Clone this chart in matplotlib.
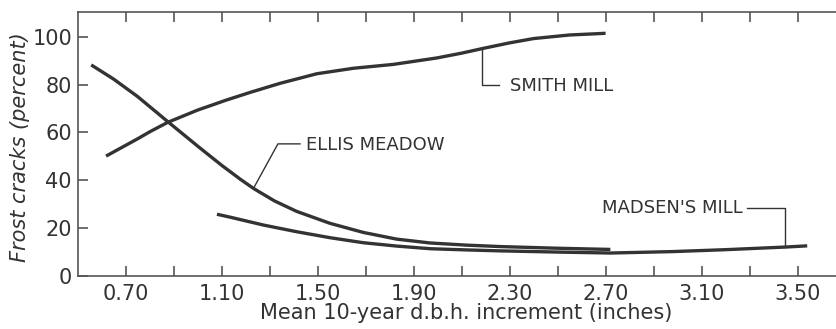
import matplotlib
matplotlib.use("Agg")
import matplotlib.pyplot as plt

# ---- data ----
ellis_x = [0.557, 0.65, 0.75, 0.876, 1.01, 1.10, 1.18, 1.233, 1.32, 1.413, 1.552, 1.691, 1.83, 1.969, 2.12, 2.26, 2.50, 2.72]
ellis_y = [88.2, 82.3, 75.0, 64.5, 53.5, 46.3, 40.3, 36.6, 31.4, 27.0, 22.0, 18.2, 15.4, 13.8, 12.9, 12.3, 11.6, 11.1]

madsen_x = [1.081, 1.135, 1.274, 1.413, 1.552, 1.691, 1.83, 1.969, 2.12, 2.26, 2.50, 2.72, 2.98, 3.20, 3.45, 3.54]
madsen_y = [25.8, 24.6, 21.3, 18.5, 16.0, 13.9, 12.5, 11.4, 10.9, 10.5, 10.0, 9.6, 10.2, 11.0, 12.1, 12.6]

smith_x = [0.619, 0.75, 0.802, 0.876, 1.00, 1.12, 1.219, 1.344, 1.497, 1.65, 1.815, 1.997, 2.10, 2.19, 2.30, 2.40, 2.55, 2.70]
smith_y = [50.1, 57.3, 60.3, 64.2, 69.3, 73.5, 76.7, 80.5, 84.5, 86.8, 88.4, 91.1, 93.1, 95.1, 97.4, 99.2, 100.7, 101.4]

xtick_major = [0.70, 1.10, 1.50, 1.90, 2.30, 2.70, 3.10, 3.50]
xtick_minor = [0.90, 1.30, 1.70, 2.10, 2.50, 2.90, 3.30]
xtick_labels = ["0.70", "1.10", "1.50", "1.90", "2.30", "2.70", "3.10", "3.50"]
ytick_vals = [0, 20, 40, 60, 80, 100]

INK = "#333333"
SPINE = "#555555"

fig = plt.figure(figsize=(8.36, 3.29), dpi=100)
ax = fig.add_axes([77.5 / 836, 53 / 329, (836 - 77.5) / 836, 264 / 329])
ax.set_xlim(0.5, 3.66)
ax.set_ylim(0, 110.3)

for xs, ys in [(ellis_x, ellis_y), (madsen_x, madsen_y), (smith_x, smith_y)]:
    ax.plot(xs, ys, color=INK, lw=2.4, solid_capstyle="butt", solid_joinstyle="round")

# leader lines and labels
lw_lead = 1.0
ax.plot([1.233, 1.335, 1.427], [36.6, 55.2, 55.2], color=INK, lw=lw_lead)
ax.text(1.452, 54.8, "ELLIS MEADOW", fontsize=13, color=INK, va="center", ha="left")

ax.plot([2.185, 2.185, 2.255], [94.8, 79.8, 79.8], color=INK, lw=lw_lead)
ax.text(2.30, 79.2, "SMITH MILL", fontsize=13, color=INK, va="center", ha="left")

ax.plot([3.29, 3.448, 3.448], [28.4, 28.4, 12.1], color=INK, lw=lw_lead)
ax.text(3.273, 28.4, "MADSEN'S MILL", fontsize=13, color=INK, va="center", ha="right")

# axes styling
ax.spines["right"].set_visible(False)
for s in ["top", "left", "bottom"]:
    ax.spines[s].set_color(SPINE)
    ax.spines[s].set_linewidth(1.2)

ax.set_xticks(xtick_major)
ax.set_xticklabels(xtick_labels)
ax.set_xticks(xtick_minor, minor=True)
ax.set_yticks(ytick_vals)
ax.set_yticklabels([str(v) for v in ytick_vals])

ax.tick_params(axis="x", which="both", direction="in", top=True, bottom=True,
               length=7, width=1.2, color=SPINE, labelsize=15, labelcolor=INK, pad=6)
ax.tick_params(axis="y", which="both", direction="in", left=True, right=False,
               length=7, width=1.2, color=SPINE, labelsize=15, labelcolor=INK, pad=4)

fig.text(466 / 836, 1 - 313 / 329, "Mean 10-year d.b.h. increment (inches)",
         fontsize=15, color=INK, ha="center", va="center")
fig.text(20 / 836, 1 - 147 / 329, "Frost cracks (percent)", fontsize=15, color=INK,
         style="italic", rotation=90, ha="center", va="center")

fig.savefig("out.png", dpi=100)
